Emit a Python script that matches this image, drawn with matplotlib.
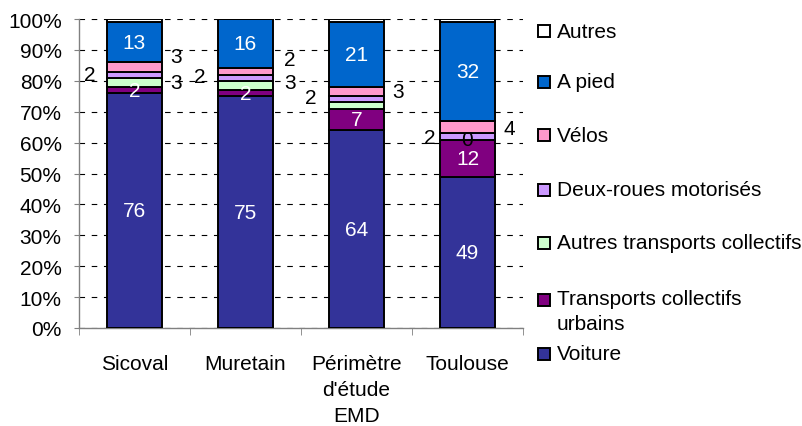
import matplotlib
matplotlib.use("Agg")
import matplotlib.pyplot as plt
from matplotlib.patches import Rectangle
import numpy as np

plt.rcParams['font.family'] = ['Liberation Sans', 'DejaVu Sans']

# Données (parts modales en %)
categories = ['Sicoval', 'Muretain', "Périmètre\nd'étude\nEMD", 'Toulouse']
voiture = [76, 75, 64, 49]
tc_urbains = [2, 2, 7, 12]
autres_tc = [3, 3, 2, 0]
deux_roues = [2, 2, 2, 2]
velos = [3, 2, 3, 4]
a_pied = [13, 16, 21, 32]
autres = [1, 0, 1, 1]

series = [
    ('Voiture', voiture, '#333399'),
    ('Transports collectifs\nurbains', tc_urbains, '#800080'),
    ('Autres transports collectifs', autres_tc, '#CCFFCC'),
    ('Deux-roues motorisés', deux_roues, '#CC99FF'),
    ('Vélos', velos, '#FF99CC'),
    ('A pied', a_pied, '#0066CC'),
    ('Autres', autres, '#FFFFFF'),
]

# étiquettes déplacées à la main : (série, barre) -> (décalage x, y, couleur)
etiquettes_manuelles = {
    (2, 0): (0.37, 79.5, 'black'),
    (3, 0): (-0.40, 82.0, 'black'),
    (4, 0): (0.37, 88.0, 'black'),
    (2, 1): (0.40, 79.5, 'black'),
    (3, 1): (-0.41, 81.5, 'black'),
    (4, 1): (0.40, 87.0, 'black'),
    (3, 2): (-0.41, 74.7, 'black'),
    (4, 2): (0.37, 76.6, 'black'),
    (2, 3): (0.0, 61.0, 'black'),
    (3, 3): (-0.34, 61.7, 'black'),
    (4, 3): (0.38, 64.6, 'black'),
}
sans_etiquette = {(2, 2)}

W, H = 803, 427
fig = plt.figure(figsize=(W / 100, H / 100), dpi=100)
ax = fig.add_axes([79 / W, 1 - 329 / H, (523 - 79) / W, (329 - 20) / H])

x = np.arange(len(categories))
bas = np.zeros(len(categories))
for k, (nom, vals, couleur) in enumerate(series):
    vals = np.array(vals, dtype=float)
    ax.bar(x, vals, 0.5, bottom=bas, color=couleur, edgecolor='black',
           linewidth=1.4, zorder=3)
    if k < 6:
        for i, v in enumerate(vals):
            if (k, i) in sans_etiquette:
                continue
            if (k, i) in etiquettes_manuelles:
                dx, y, c = etiquettes_manuelles[(k, i)]
            else:
                dx, y, c = 0, bas[i] + v / 2, 'white'
            ax.text(x[i] + dx, y, f'{v:.0f}', ha='center', va='center',
                    color=c, fontsize=15, zorder=4)
    bas += vals

ax.set_xlim(-0.5, len(categories) - 0.5)
ax.set_ylim(0, 100)
ax.set_yticks(np.arange(0, 101, 10))
ax.set_yticklabels([f'{t}%' for t in range(0, 101, 10)], fontsize=15)
ax.yaxis.grid(True, linestyle=(0, (5, 6)), color='black', linewidth=0.8, zorder=0)
ax.set_axisbelow(True)

ax.set_xticks(x)
ax.set_xticklabels(categories, fontsize=15, linespacing=1.44)
ax.set_xticks(np.arange(-0.5, len(categories), 1), minor=True)
ax.tick_params(axis='x', which='major', length=0, pad=19)
ax.tick_params(axis='x', which='minor', length=5, direction='out', color='#808080')
ax.tick_params(axis='y', length=3.5, direction='out', color='#808080', pad=9)

for s in ['top', 'right']:
    ax.spines[s].set_visible(False)
for s in ['left', 'bottom']:
    ax.spines[s].set_color('#808080')
    ax.spines[s].set_linewidth(1.0)

# légende dessinée à la main (ordre inverse de l'empilement)
centres_y = [32, 83, 136, 191, 244, 301, 355]
for (nom, vals, couleur), cy in zip(series[::-1], centres_y):
    fig.add_artist(Rectangle((538 / W, 1 - (cy + 6) / H), 12 / W, 12 / H,
                             transform=fig.transFigure, facecolor=couleur,
                             edgecolor='black', linewidth=1.4))
    if '\n' in nom:
        fig.text(557 / W, 1 - (cy - 11) / H, nom, ha='left', va='top',
                 fontsize=15, linespacing=1.37)
    else:
        fig.text(557 / W, 1 - cy / H, nom, ha='left', va='center', fontsize=15)

fig.savefig('out.png', dpi=100)
